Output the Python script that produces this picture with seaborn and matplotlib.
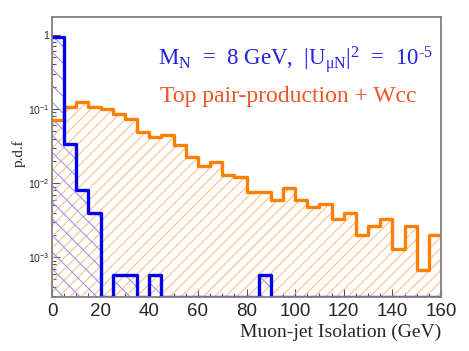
import numpy as np
import pandas as pd
import seaborn as sns
import matplotlib.pyplot as plt
from matplotlib.ticker import FixedLocator, MultipleLocator, LogLocator, NullFormatter

# data: 5 GeV bins from 0 to 160
bin_edges = list(range(0, 165, 5))
signal_pdf = [0.95, 0.0336, 0.0080, 0.0040, 0, 0.00057, 0.00057, 0, 0.00057,
              0, 0, 0, 0, 0, 0, 0, 0, 0.00057, 0, 0, 0, 0, 0, 0, 0, 0, 0, 0,
              0, 0, 0, 0]
background_pdf = [0.071, 0.107, 0.123, 0.107, 0.099, 0.086, 0.073, 0.049,
                  0.042, 0.044, 0.033, 0.0227, 0.017, 0.0192, 0.0127, 0.0121,
                  0.0076, 0.0076, 0.0059, 0.0085, 0.0059, 0.0047, 0.0053,
                  0.0033, 0.0040, 0.0020, 0.00265, 0.0033, 0.00131, 0.00265,
                  0.00067, 0.0020]
y_ticks = [1, 0.1, 0.01, 0.001]
y_ticklabels = ["1", r"$\mathregular{10^{-1}}$", r"$\mathregular{10^{-2}}$", r"$\mathregular{10^{-3}}$"]
x_ticks = [0, 20, 40, 60, 80, 100, 120, 140, 160]

ymin, ymax = 2.9e-4, 1.75

sns.set_style("ticks")
plt.rcParams['font.family'] = ['Liberation Sans', 'DejaVu Sans']
plt.rcParams['hatch.linewidth'] = 0.7

centers = np.array(bin_edges[:-1]) + 2.5
df = pd.DataFrame({"iso": centers,
                   "sig": np.clip(signal_pdf, ymin, None),
                   "bkg": np.clip(background_pdf, ymin, None)})

fig = plt.figure(figsize=(4.69, 3.51), dpi=100)
ax = fig.add_axes([0.1109, 0.1538, 0.8294, 0.7978])
ax.set_yscale("log")

orange = "#ff8000"
blue = "#0000ee"

# hatched fills
sns.histplot(data=df, x="iso", weights="bkg", bins=bin_edges, element="step",
             fill=True, color="#ffb877", facecolor="none", edgecolor="#ffb877",
             hatch="///", linewidth=0, ax=ax)
sns.histplot(data=df, x="iso", weights="sig", bins=bin_edges, element="step",
             fill=True, color="#8c8cff", facecolor="none", edgecolor="#8c8cff",
             hatch="\\\\", linewidth=0, ax=ax)
# outlines
sns.histplot(data=df, x="iso", weights="bkg", bins=bin_edges, element="step",
             fill=False, color=orange, linewidth=2.4, ax=ax)
sns.histplot(data=df, x="iso", weights="sig", bins=bin_edges, element="step",
             fill=False, color=blue, linewidth=2.4, ax=ax)

ax.set_xlim(0, 160)
ax.set_ylim(ymin, ymax)

ax.xaxis.set_major_locator(FixedLocator(x_ticks))
ax.xaxis.set_minor_locator(MultipleLocator(5))
ax.set_xticklabels([str(t) for t in x_ticks], fontsize=13.5)
ax.yaxis.set_major_locator(FixedLocator(y_ticks))
ax.yaxis.set_minor_locator(LogLocator(base=10, subs=np.arange(2, 10)))
ax.yaxis.set_minor_formatter(NullFormatter())
ax.set_yticklabels(y_ticklabels, fontsize=7.5)

ax.tick_params(axis="both", which="major", direction="in", length=5.5,
               width=0.8, color="#555555")
ax.tick_params(axis="both", which="minor", direction="in", length=3,
               width=0.8, color="#555555")
ax.tick_params(axis="x", pad=4)
ax.tick_params(axis="y", pad=2)

for side in ["left", "right", "top", "bottom"]:
    ax.spines[side].set_visible(True)
    ax.spines[side].set_color("#808080")
    ax.spines[side].set_linewidth(1.3)

ax.set_xlabel("")
ax.set_ylabel("")
fig.text(441 / 469, 1 - 337 / 351, "Muon-jet Isolation (GeV)",
         family="Liberation Serif", fontsize=14, ha="right", va="baseline")
fig.text(19 / 469, 1 - 153 / 351, "p.d.f", family="Liberation Serif",
         fontsize=11, rotation=90, ha="center", va="center")

fig.text(158 / 469, 1 - 65 / 351,
         r"M$\mathregular{_N}$  =  8 GeV,  |U$\mathregular{_{\mu N}}$|$\mathregular{^2}$  =  10$\mathregular{^{‐5}}$",
         family="Liberation Serif", fontsize=16.5, color="#2020e0",
         ha="left", va="baseline")
fig.text(160 / 469, 1 - 102 / 351, "Top pair-production + Wcc",
         family="Liberation Serif", fontsize=17, color="#f05522",
         ha="left", va="baseline")

fig.savefig("out.png", dpi=100, facecolor="white")
